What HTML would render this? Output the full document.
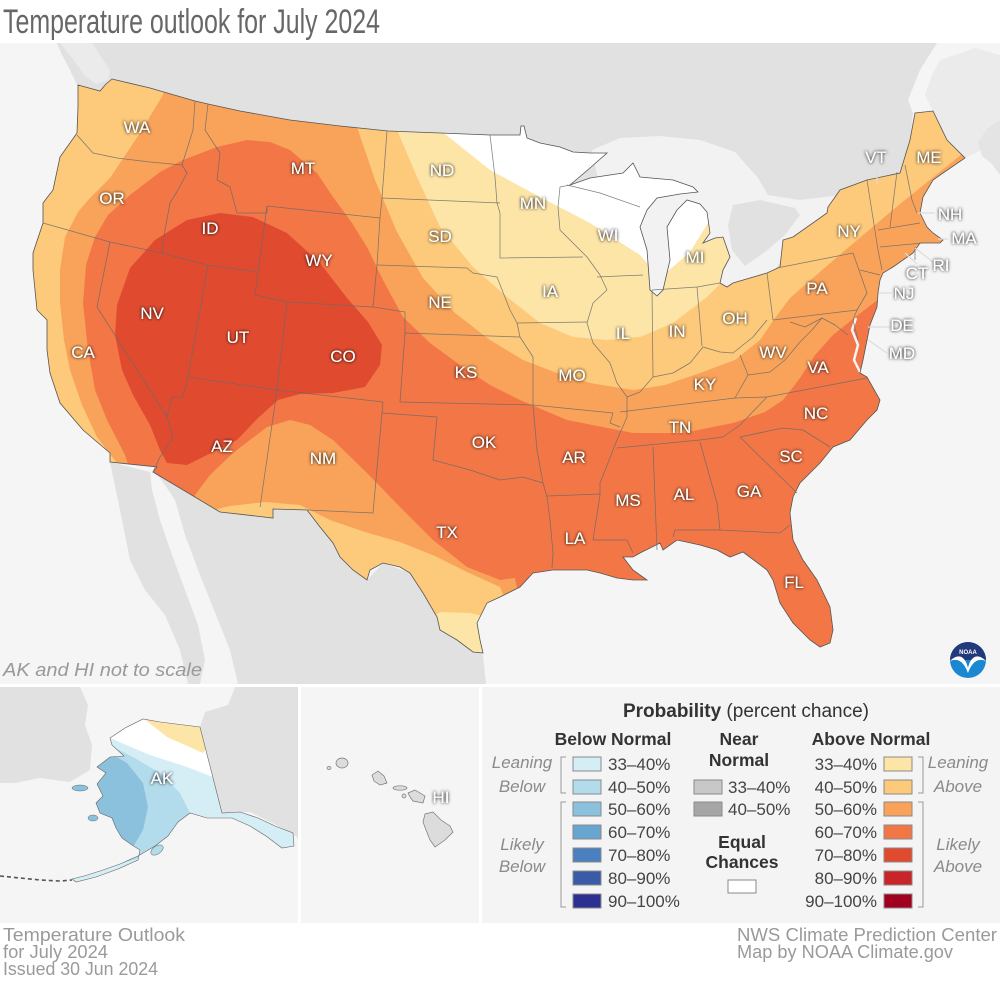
<!DOCTYPE html>
<html><head><meta charset="utf-8">
<style>
html,body{margin:0;padding:0;background:#fff}
svg{display:block}
text{font-family:"Liberation Sans",sans-serif}
.st{fill:#fff;font-size:17px;text-anchor:middle}
.b polyline{fill:none;stroke:#6a6a6a;stroke-width:.75;stroke-linejoin:round;opacity:.85}
.lg{font-size:17px;fill:#444}
.hd{font-size:17.5px;fill:#333;font-weight:bold;text-anchor:middle}
.it{font-size:17px;fill:#8a8a8a;font-style:italic;text-anchor:middle}
.ft{font-size:18px;fill:#9a9a9a}
.bx{stroke:#8a8a8a;stroke-width:1}
.ld{stroke:#ddd;stroke-width:1.2;fill:none}
</style></head><body>
<svg width="1000" height="985" viewBox="0 0 1000 985" xmlns="http://www.w3.org/2000/svg">
<defs>
<filter id="sh" x="-10%" y="-10%" width="120%" height="120%">
<feGaussianBlur in="SourceAlpha" stdDeviation="1.5" result="b"/>
<feComponentTransfer in="b" result="c"><feFuncA type="linear" slope="1.1"/></feComponentTransfer>
<feMerge><feMergeNode in="c"/><feMergeNode in="SourceGraphic"/></feMerge>
</filter>
<clipPath id="us"><path id="usp" d="M78,85 L100,91 L106,84 L112,79 L150,88 L195,101 L208,104 L240,111 L290,120 L340,126 L388,131 L440,133 L490,135 L520,135 L521,126 L524,126 L527,138 L540,143 L560,147 L573,152 L590,153 L607,153 L590,168 L570,185 L590,178 L623,173 L633,163 L640,177 L673,180 L693,187 L698,192 L680,194 L657,198 L647,210 L640,227 L647,250 L650,290 L657,296 L663,290 L670,260 L667,227 L677,210 L687,200 L700,204 L707,212 L710,233 L703,243 L715,238 L723,237 L730,257 L723,270 L720,283 L727,287 L733,283 L767,273 L780,267 L783,240 L793,237 L827,213 L828,207 L840,190 L867,180 L900,173 L910,140 L915,113 L933,111 L947,140 L965,158 L943,173 L933,180 L923,197 L920,213 L927,227 L933,233 L943,240 L940,243 L920,243 L913,253 L893,267 L883,273 L880,280 L878,293 L877,307 L870,325 L867,340 L863,360 L860,373 L867,377 L880,400 L877,410 L867,420 L850,440 L833,447 L820,463 L800,483 L793,497 L790,513 L793,540 L803,560 L817,580 L830,607 L833,630 L830,643 L820,647 L810,640 L793,623 L780,603 L777,593 L773,580 L767,570 L743,552 L730,557 L717,550 L700,545 L677,540 L663,550 L660,543 L640,553 L633,557 L623,557 L633,570 L647,580 L633,580 L617,578 L600,573 L587,570 L567,570 L553,570 L533,573 L520,587 L500,597 L487,603 L477,623 L480,640 L483,653 L473,652 L457,640 L440,630 L437,617 L423,593 L410,573 L400,567 L383,563 L370,570 L367,580 L353,570 L340,557 L333,543 L320,527 L307,510 L273,509 L273,518 L220,512 L153,472 L157,467 L110,462 L110,453 L83,430 L60,403 L50,373 L47,350 L47,320 L37,310 L33,270 L33,253 L43,223 L43,203 L53,190 L60,157 L77,133 L78,107 Z"/></clipPath>
<clipPath id="ak"><path id="akp" d="M110,738 L125,728 L143,719 L160,722 L200,727 L222,813 L240,812 L258,818 L275,826 L293,833 L294,846 L282,848 L266,836 L250,826 L232,818 L207,818 L190,813 L178,822 L168,836 L155,846 L138,856 L120,864 L100,871 L84,876 L72,879 L76,882 L96,877 L118,869 L138,860 L140,850 L132,845 L122,838 L116,828 L112,818 L100,813 L96,803 L103,796 L97,784 L106,773 L97,767 L110,757 L124,756 L112,745 Z"/></clipPath>
</defs>

<rect width="1000" height="985" fill="#fff"/>
<text x="3" y="33" font-size="34" fill="#676767" textLength="377" lengthAdjust="spacingAndGlyphs">Temperature outlook for July 2024</text>

<!-- main map panel -->
<rect x="0" y="43" width="1000" height="641" fill="#f5f5f5"/>
<path fill="#ebebeb" d="M940,60 L975,48 L1000,55 L1000,140 L985,148 L965,158 L947,140 L933,111 L925,95 L932,75 Z"/>
<path fill="#e1e1e1" d="M57,43 L937,43 L920,70 L908,100 L913,113 L910,140 L900,173 L870,180 L850,225 L820,235 L790,255 L770,290 L700,300 L620,260 L520,160 L300,140 L110,100 L78,87 L70,70 L62,55 Z"/>
<path fill="#ebebeb" d="M60,43 L92,43 L100,55 L110,70 L108,80 L96,84 L85,76 L75,62 Z"/>
<path fill="#e4e4e4" d="M1000,120 L988,128 L978,142 L982,156 L992,164 L1000,175 Z"/>
<path fill="#f2f2f2" d="M592,150 L620,138 L660,136 L700,140 L735,152 L758,178 L768,195 L800,200 L840,195 L846,212 L820,222 L795,240 L775,270 L740,292 L700,300 L645,300 L630,250 L600,190 Z"/>
<path fill="#e1e1e1" d="M733,205 L760,200 L795,208 L800,215 L785,235 L765,252 L745,266 L732,250 L728,225 Z"/>
<!-- Mexico -->
<path fill="#e1e1e1" d="M110,462 L150,472 L152,490 L160,520 L172,555 L185,590 L198,625 L205,660 L200,684 L188,684 L180,650 L165,615 L145,590 L130,560 L120,510 Z"/>
<path fill="#e1e1e1" d="M155,472 L220,512 L273,518 L273,509 L307,510 L333,543 L353,570 L367,580 L383,563 L410,573 L437,617 L457,640 L483,655 L486,684 L238,684 L230,650 L216,615 L200,575 L185,535 L175,500 L165,485 Z"/>

<!-- CONUS zones -->
<g clip-path="url(#us)">
<rect x="0" y="43" width="1000" height="641" fill="#f9a35a"/>
<path fill="#f27646" d="M130,525 L130,470 L125,455 L107,420 L95,390 L88,350 L83,303 L86,265 L95,237 L108,215 L130,195 L160,172 L183,160 L217,147 L247,140 L270,142 L290,150 L317,173 L333,197 L350,220 L367,247 L383,280 L403,317 L430,343 L460,365 L490,385 L520,400 L567,420 L633,433 L683,433 L733,423 L765,412 L783,400 L800,378 L815,355 L833,335 L858,315 L880,298 L920,268 L960,240 L1000,240 L1000,700 L540,700 L515,578 L500,580 L467,567 L433,540 L400,507 L367,473 L333,440 L310,425 L290,420 L267,427 L233,453 L210,475 L195,495 L190,525 Z"/>
<path fill="#e04b30" d="M167,463 L187,465 L213,452 L237,440 L258,418 L278,400 L300,394 L333,393 L365,387 L380,365 L382,345 L368,322 L347,298 L320,263 L287,233 L253,217 L220,213 L187,220 L155,240 L130,268 L117,305 L115,335 L122,370 L133,395 L150,425 L160,450 Z"/>
<path fill="#fdc97a" d="M0,43 L170,43 L163,95 L140,133 L110,178 L90,198 L78,212 L65,237 L60,270 L60,303 L64,340 L70,370 L82,405 L97,437 L117,463 L125,490 L0,490 Z"/>
<path fill="#fdc97a" d="M357,43 L357,127 L375,180 L397,232 L423,278 L455,313 L490,340 L523,360 L557,373 L590,383 L633,390 L665,385 L700,373 L735,360 L760,340 L775,318 L790,298 L843,252 L900,204 L967,150 L1000,130 L1000,43 Z"/>
<path fill="#fdc97a" d="M190,516 L230,506 L265,502 L300,505 L330,520 L365,532 L400,542 L435,556 L467,572 L500,587 L540,684 L190,684 Z"/>
<path fill="#fde5a8" d="M397,43 L397,130 L417,177 L440,227 L473,267 L507,297 L540,323 L573,337 L607,340 L640,337 L673,323 L707,297 L727,277 L745,250 L760,220 L760,43 Z"/>
<path fill="#fde5a8" d="M400,640 L440,612 L470,613 L500,620 L520,684 L400,684 Z"/>
<path fill="#ffffff" d="M440,43 L440,130 L490,170 L540,197 L590,223 L640,255 L660,278 L690,252 L713,215 L735,175 L740,43 Z"/>
<path fill="none" stroke="#f5f5f5" stroke-width="2.5" d="M856,318 L852,330 L858,345 L854,360 L860,372"/>
</g>
<use href="#usp" fill="none" stroke="#555" stroke-width=".8"/>

<g class="b">
<polyline points="77,135 93,153 117,158 150,162 182,165"/>
<polyline points="195,101 193,130 182,165"/>
<polyline points="182,165 187,173 178,190 170,203 165,230 162,253"/>
<polyline points="43,223 110,242 162,253 207,265 258,272"/>
<polyline points="110,242 97,307 167,417"/>
<polyline points="208,265 188,377 183,397 172,397 167,417 173,437 160,457 153,472"/>
<polyline points="188,377 277,390 383,402"/>
<polyline points="208,104 205,130 220,153 217,180 230,187 237,213 267,213 267,206"/>
<polyline points="267,206 258,272 255,295 287,302 373,307"/>
<polyline points="267,206 380,218"/>
<polyline points="287,302 277,390 260,507"/>
<polyline points="387,131 382,198 380,218 377,265 373,307 405,312 405,333 400,402"/>
<polyline points="383,402 382,413 373,513 307,510"/>
<polyline points="382,413 437,417 433,460 470,470 500,480 523,477 543,483"/>
<polyline points="400,402 533,405 537,450 543,483 547,497 550,520 553,553 552,568"/>
<polyline points="547,496 600,494"/>
<polyline points="382,198 500,203"/>
<polyline points="377,265 467,268 473,273 497,277 510,310 517,323 520,337 533,357 533,405"/>
<polyline points="405,333 520,337"/>
<polyline points="490,135 495,177 497,203 500,213 500,258 583,257"/>
<polyline points="570,185 560,187 558,207 560,230 587,257 600,275 607,290 593,303 587,323 593,343 610,363 617,383 627,397 627,417 617,440 600,483 600,495 593,540 627,540 633,553"/>
<polyline points="517,323 587,322"/>
<polyline points="533,405 613,413 610,423 620,427"/>
<polyline points="597,277 643,275"/>
<polyline points="567,185 600,193 640,207"/>
<polyline points="652,290 653,377"/>
<polyline points="652,290 697,287 720,283"/>
<polyline points="697,287 702,346"/>
<polyline points="627,397 640,392 653,377 673,373 690,363 703,347 720,352 733,353 753,337 767,320"/>
<polyline points="620,412 735,398 767,397"/>
<polyline points="617,448 700,440 723,437 740,425 767,397 867,378"/>
<polyline points="653,447 657,550"/>
<polyline points="700,442 717,503 720,530"/>
<polyline points="673,537 675,530 720,530 780,533 790,525"/>
<polyline points="740,437 797,493"/>
<polyline points="740,437 783,428 803,430 830,447"/>
<polyline points="740,355 748,375 735,398"/>
<polyline points="748,375 770,372 785,360 800,342 812,330 822,318"/>
<polyline points="790,322 805,327 822,318 835,325 848,335"/>
<polyline points="767,273 773,320"/>
<polyline points="777,268 853,253"/>
<polyline points="773,320 857,310"/>
<polyline points="853,253 860,273 867,293 857,310 853,320 858,340"/>
<polyline points="867,180 878,250 882,270"/>
<polyline points="897,172 890,227"/>
<polyline points="905,165 912,200 917,213"/>
<polyline points="878,230 920,223"/>
<polyline points="880,247 923,243"/>
<polyline points="915,247 915,260"/>
<polyline points="860,270 880,275"/>
</g>

<!-- leader lines -->
<line class="ld" x1="877" y1="167" x2="877" y2="184"/>
<line class="ld" x1="918" y1="213" x2="935" y2="213"/>
<line class="ld" x1="938" y1="239" x2="948" y2="239"/>
<line class="ld" x1="915" y1="248" x2="933" y2="262"/>
<line class="ld" x1="905" y1="253" x2="917" y2="264"/>
<line class="ld" x1="879" y1="293" x2="892" y2="293"/>
<line class="ld" x1="868" y1="327" x2="890" y2="327"/>
<line class="ld" x1="868" y1="340" x2="887" y2="353"/>

<!-- state labels -->
<g class="st" filter="url(#sh)">
<text x="137" y="133">WA</text><text x="112" y="204">OR</text><text x="210" y="234">ID</text>
<text x="303" y="174">MT</text><text x="319" y="266">WY</text><text x="152" y="319">NV</text>
<text x="238" y="343">UT</text><text x="343" y="362">CO</text><text x="83" y="358">CA</text>
<text x="222" y="452">AZ</text><text x="323" y="464">NM</text><text x="442" y="176">ND</text>
<text x="440" y="242">SD</text><text x="440" y="308">NE</text><text x="466" y="378">KS</text>
<text x="484" y="448">OK</text><text x="447" y="538">TX</text><text x="533" y="209">MN</text>
<text x="550" y="297">IA</text><text x="572" y="381">MO</text><text x="574" y="463">AR</text>
<text x="575" y="544">LA</text><text x="628" y="506">MS</text><text x="684" y="500">AL</text>
<text x="749" y="497">GA</text><text x="794" y="588">FL</text><text x="791" y="462">SC</text>
<text x="816" y="419">NC</text><text x="680" y="433">TN</text><text x="705" y="390">KY</text>
<text x="773" y="358">WV</text><text x="818" y="373">VA</text><text x="735" y="324">OH</text>
<text x="677" y="337">IN</text><text x="623" y="339">IL</text><text x="608" y="241">WI</text>
<text x="695" y="263">MI</text><text x="817" y="294">PA</text><text x="849" y="237">NY</text>
<text x="876" y="163">VT</text><text x="929" y="163">ME</text><text x="950" y="220">NH</text>
<text x="964" y="244">MA</text><text x="941" y="271">RI</text><text x="917" y="279">CT</text>
<text x="904" y="299">NJ</text><text x="902" y="331">DE</text><text x="902" y="359">MD</text>
</g>

<text x="3" y="676" font-size="18" font-style="italic" fill="#999" textLength="199" lengthAdjust="spacingAndGlyphs">AK and HI not to scale</text>

<!-- NOAA logo -->
<g transform="translate(968,660)">
<circle r="18" fill="#1a87d0"/>
<path d="M-18,0 A18,18 0 0 1 18,0 Z" fill="#233a7a"/>
<path d="M-18,1 C-8,-9 -2,-1 0,8 C2,-1 8,-9 18,1 C8,-3 3,5 0,13 C-3,5 -8,-3 -18,1 Z" fill="#fff"/>
<text x="0" y="-6" font-size="6" fill="#fff" text-anchor="middle" font-weight="bold">NOAA</text>
</g>

<!-- Alaska panel -->
<rect x="0" y="687" width="298" height="236" fill="#f5f5f5"/>
<path fill="#e1e1e1" d="M0,687 L80,687 L88,705 L85,725 L92,745 L90,770 L70,782 L40,778 L15,783 L0,783 Z"/>
<path fill="#e1e1e1" d="M200,727 L205,712 L228,705 L235,687 L298,687 L298,838 L290,832 L270,822 L250,812 L222,813 Z"/>
<g clip-path="url(#ak)">
<rect x="0" y="687" width="298" height="236" fill="#d5eef6"/>
<path fill="#b2dcec" d="M0,690 L133,757 L160,773 L180,793 L190,813 L200,840 L0,900 Z"/>
<path fill="#8bc1dd" d="M0,690 L127,763 L143,783 L148,807 L143,830 L133,847 L0,900 Z"/>
<path fill="#fff" d="M0,690 L250,690 L213,777 L187,767 L150,755 L110,738 Z"/>
<path fill="#fde5a8" d="M130,690 L250,690 L203,753 L167,737 L143,718 Z"/>
</g>
<use href="#akp" fill="none" stroke="#666" stroke-width=".6"/>
<path d="M0,876 L20,878 L40,880 L60,881 L72,880" fill="none" stroke="#555" stroke-width="1.6" stroke-dasharray="4 3"/>
<ellipse cx="80" cy="788" rx="8" ry="3" fill="#8bc1dd" stroke="#666" stroke-width=".5"/>
<ellipse cx="93" cy="818" rx="5" ry="3" fill="#8bc1dd" stroke="#666" stroke-width=".5"/>
<ellipse cx="157" cy="850" rx="7" ry="4" fill="#b2dcec" stroke="#666" stroke-width=".5" transform="rotate(-35 157 850)"/>
<text class="st" x="162" y="784" filter="url(#sh)">AK</text>

<!-- Hawaii panel -->
<rect x="301" y="687" width="178" height="236" fill="#f5f5f5"/>
<g fill="#dcdcdc" stroke="#777" stroke-width=".7">
<ellipse cx="342" cy="763" rx="6" ry="5"/>
<ellipse cx="329" cy="768" rx="2" ry="1.5"/>
<path d="M372,775 L378,771 L384,776 L387,783 L380,785 L374,781 Z"/>
<ellipse cx="400" cy="788" rx="7" ry="2.2"/>
<path d="M408,793 L415,790 L425,796 L423,803 L413,801 L410,797 Z"/>
<ellipse cx="404" cy="796" rx="2" ry="2"/>
<path d="M425,814 L433,812 L441,820 L450,826 L453,832 L445,840 L435,847 L430,840 L426,830 L423,822 Z"/>
</g>
<text class="st" x="441" y="803" filter="url(#sh)">HI</text>

<!-- Legend panel -->
<rect x="482" y="687" width="518" height="236" fill="#f4f4f4"/>
<text x="746" y="717" text-anchor="middle" font-size="19" fill="#333"><tspan font-weight="bold">Probability</tspan> (percent chance)</text>
<text class="hd" x="613" y="745">Below Normal</text>
<text class="hd" x="739" y="745">Near</text>
<text class="hd" x="739" y="766">Normal</text>
<text class="hd" x="871" y="745">Above Normal</text>

<g class="bx">
<rect x="573" y="757" width="28" height="14" fill="#d5eef6"/>
<rect x="573" y="780" width="28" height="14" fill="#b2dcec"/>
<rect x="573" y="802" width="28" height="14" fill="#8bc1dd"/>
<rect x="573" y="825" width="28" height="14" fill="#69a6cf"/>
<rect x="573" y="848" width="28" height="14" fill="#4a80bf"/>
<rect x="573" y="871" width="28" height="14" fill="#3a5ba8"/>
<rect x="573" y="894" width="28" height="14" fill="#2c3090"/>
<rect x="694" y="780" width="28" height="14" fill="#c8c8c8"/>
<rect x="694" y="802" width="28" height="14" fill="#a6a6a6"/>
<rect x="728" y="880" width="28" height="13" fill="#fff"/>
<rect x="884" y="757" width="28" height="14" fill="#fde5a8"/>
<rect x="884" y="780" width="28" height="14" fill="#fdc97a"/>
<rect x="884" y="802" width="28" height="14" fill="#f9a35a"/>
<rect x="884" y="825" width="28" height="14" fill="#f27646"/>
<rect x="884" y="848" width="28" height="14" fill="#e04b30"/>
<rect x="884" y="871" width="28" height="14" fill="#c9242a"/>
<rect x="884" y="894" width="28" height="14" fill="#a1001e"/>
</g>

<g class="lg">
<text x="608" y="770">33–40%</text>
<text x="608" y="793">40–50%</text>
<text x="608" y="815">50–60%</text>
<text x="608" y="838">60–70%</text>
<text x="608" y="861">70–80%</text>
<text x="608" y="884">80–90%</text>
<text x="608" y="907">90–100%</text>
<text x="728" y="793">33–40%</text>
<text x="728" y="815">40–50%</text>
</g>
<g class="lg" text-anchor="end">
<text x="877" y="770">33–40%</text>
<text x="877" y="793">40–50%</text>
<text x="877" y="815">50–60%</text>
<text x="877" y="838">60–70%</text>
<text x="877" y="861">70–80%</text>
<text x="877" y="884">80–90%</text>
<text x="877" y="907">90–100%</text>
</g>
<text class="hd" x="742" y="848">Equal</text>
<text class="hd" x="742" y="868">Chances</text>

<g fill="none" stroke="#9a9a9a" stroke-width="1">
<path d="M566,757 H561 V793 H566"/>
<path d="M566,802 H561 V907 H566"/>
<path d="M918,757 H923 V793 H918"/>
<path d="M918,802 H923 V907 H918"/>
</g>
<text class="it" x="522" y="768">Leaning</text>
<text class="it" x="522" y="792">Below</text>
<text class="it" x="522" y="850">Likely</text>
<text class="it" x="522" y="872">Below</text>
<text class="it" x="958" y="768">Leaning</text>
<text class="it" x="958" y="792">Above</text>
<text class="it" x="958" y="850">Likely</text>
<text class="it" x="958" y="872">Above</text>

<!-- footer -->
<text class="ft" x="3" y="941" textLength="182" lengthAdjust="spacingAndGlyphs">Temperature Outlook</text>
<text class="ft" x="3" y="958" textLength="105" lengthAdjust="spacingAndGlyphs">for July 2024</text>
<text class="ft" x="3" y="975" textLength="155" lengthAdjust="spacingAndGlyphs">Issued 30 Jun 2024</text>
<text class="ft" x="737" y="941" textLength="260" lengthAdjust="spacingAndGlyphs">NWS Climate Prediction Center</text>
<text class="ft" x="737" y="958" textLength="216" lengthAdjust="spacingAndGlyphs">Map by NOAA Climate.gov</text>
</svg>
</body></html>
